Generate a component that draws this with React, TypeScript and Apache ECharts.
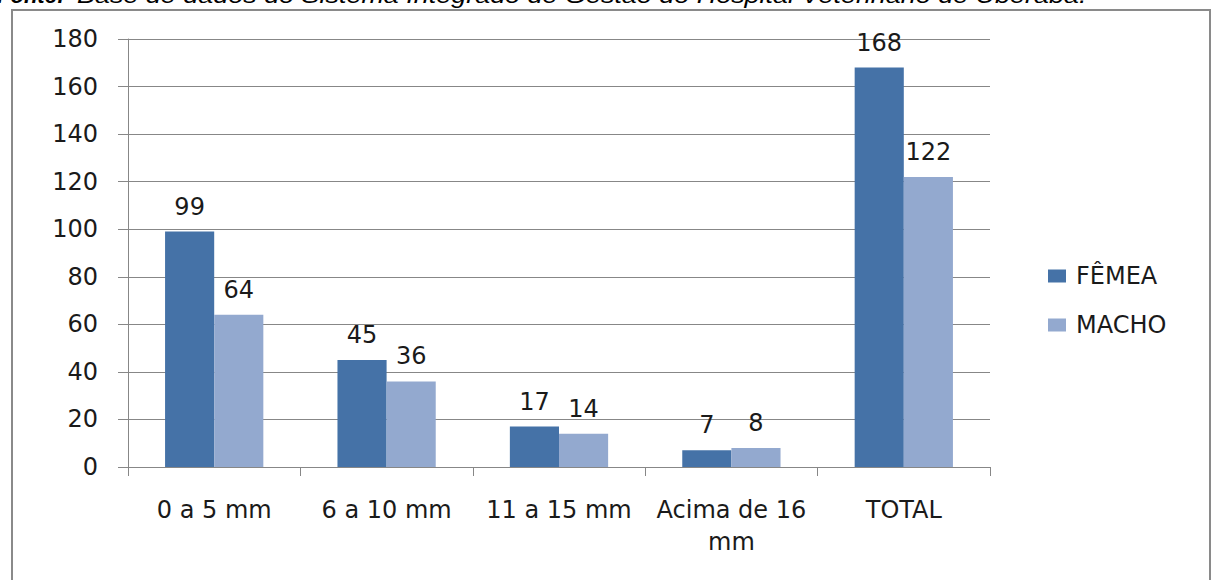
import React, { useEffect, useRef } from "react";
import * as echarts from "echarts";

const categories = ["0 a 5 mm", "6 a 10 mm", "11 a 15 mm", "Acima de 16\nmm", "TOTAL"];
const femea = [99, 45, 17, 7, 168];
const macho = [64, 36, 14, 8, 122];
const seriesNames = ["FÊMEA", "MACHO"];
const sourceLabel = "Fonte:";
const sourceNote = "Base de dados do Sistema Integrado de Gestão do Hospital Veterinário de Uberaba.";

const FONT = "DejaVu Sans";
const GRID_COLOR = "#878787";

export default function App() {
  const ref = useRef<HTMLDivElement>(null);
  useEffect(() => {
    if (!ref.current) return;
    const chart = echarts.init(ref.current, null, { renderer: "svg" });
    const labelStyle = {
      show: true,
      position: "top",
      distance: 13,
      fontFamily: FONT,
      fontSize: 24,
      color: "#1a1a1a",
    };
    chart.setOption({
      animation: false,
      backgroundColor: "#ffffff",
      grid: { left: 128, top: 39, right: 221, bottom: 113, containLabel: false },
      legend: {
        orient: "vertical",
        left: 1043,
        top: 259,
        itemWidth: 18,
        itemHeight: 13,
        itemGap: 25,
        icon: "rect",
        textStyle: { fontFamily: FONT, fontSize: 24, color: "#1a1a1a", padding: [0, 0, 0, 5] },
        data: seriesNames,
      },
      xAxis: {
        type: "category",
        data: categories,
        axisLine: { show: true, lineStyle: { color: GRID_COLOR, width: 1 } },
        axisTick: { show: true, length: 9, alignWithLabel: false, lineStyle: { color: GRID_COLOR } },
        axisLabel: {
          margin: 27,
          fontFamily: FONT,
          fontSize: 24,
          lineHeight: 32,
          color: "#1a1a1a",
          interval: 0,
        },
        splitLine: { show: false },
      },
      yAxis: {
        type: "value",
        min: 0,
        max: 180,
        interval: 20,
        axisLine: { show: true, lineStyle: { color: GRID_COLOR, width: 1 } },
        axisTick: { show: true, length: 10, lineStyle: { color: GRID_COLOR } },
        axisLabel: { margin: 30, fontFamily: FONT, fontSize: 24, color: "#1a1a1a" },
        splitLine: { show: true, lineStyle: { color: GRID_COLOR, width: 1 } },
      },
      series: [
        {
          name: seriesNames[0],
          type: "bar",
          data: femea,
          barGap: "0%",
          barCategoryGap: "43%",
          itemStyle: { color: "#4572A7" },
          label: labelStyle,
        },
        {
          name: seriesNames[1],
          type: "bar",
          data: macho,
          itemStyle: { color: "#93A9CF" },
          label: labelStyle,
        },
      ],
      graphic: [
        {
          type: "rect",
          shape: { x: 12, y: 10, width: 1198, height: 600 },
          style: { fill: "none", stroke: "#8a8a8a", lineWidth: 2 },
          silent: true,
        },
        {
          type: "text",
          x: -3,
          y: 6,
          style: {
            text: sourceLabel,
            fontFamily: "Liberation Sans",
            fontSize: 22,
            fontWeight: "bold",
            fontStyle: "italic",
            fill: "#000",
            verticalAlign: "bottom",
          },
          silent: true,
        },
        {
          type: "text",
          x: 77,
          y: 6,
          scaleX: 1.225,
          style: {
            text: sourceNote,
            fontFamily: "Liberation Sans",
            fontSize: 22,
            fontStyle: "italic",
            fill: "#000",
            verticalAlign: "bottom",
          },
          silent: true,
        },
      ],
    });
    return () => chart.dispose();
  }, []);
  return (
    <div
      ref={ref}
      style={{ position: "fixed", left: 0, top: 0, width: 1211, height: 580 }}
    />
  );
}
